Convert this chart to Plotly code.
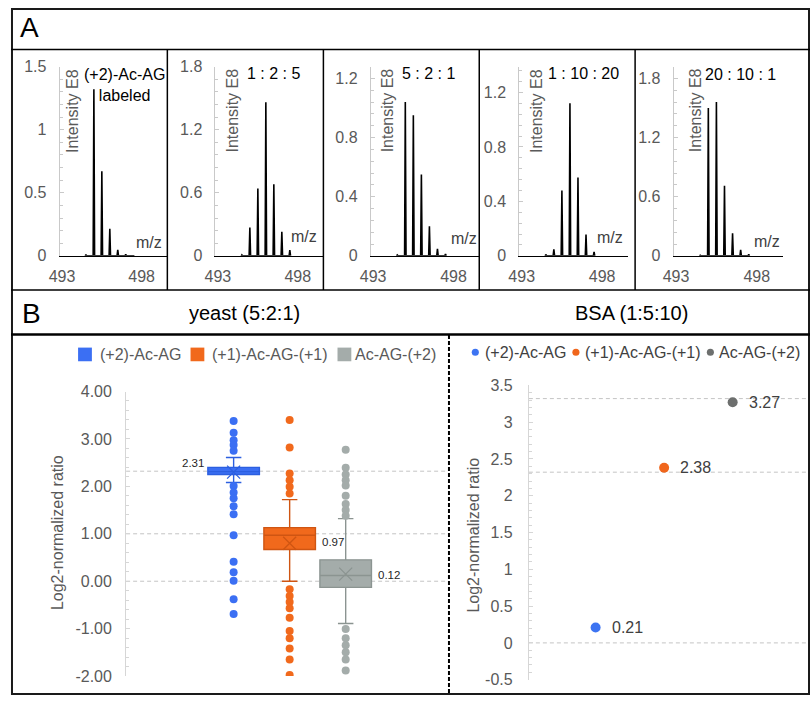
import plotly.graph_objects as go

W, H = 810, 704

# ---------------- Panel A: mass spectra ----------------
mz = [494.5, 495.0, 495.5, 496.0, 496.5, 497.0, 497.5]
intensity_labeled = [0.010, 1.32, 0.67, 0.215, 0.047, 0.013, 0.0]
intensity_1_2_5 = [0.010, 0.27, 0.64, 1.46, 0.68, 0.23, 0.055]
intensity_5_2_1 = [0.006, 1.04, 0.95, 0.55, 0.20, 0.047, 0.013]
intensity_1_10_20 = [0.010, 0.048, 0.48, 1.12, 0.575, 0.156, 0.030]
intensity_20_10_1 = [0.006, 1.50, 1.56, 0.71, 0.23, 0.060, 0.015]
spectra = [intensity_labeled, intensity_1_2_5, intensity_5_2_1, intensity_1_10_20, intensity_20_10_1]
spectrum_labels = ["(+2)-Ac-AG<br>labeled", "1 : 2 : 5", "5 : 2 : 1", "1 : 10 : 20", "20 : 10 : 1"]
mz_tick_values = [493, 498]
mz_range = [492.85, 499.6]
intensity_ticks = [[0, 0.5, 1, 1.5], [0, 0.6, 1.2, 1.8], [0, 0.4, 0.8, 1.2],
                   [0, 0.4, 0.8, 1.2], [0, 0.6, 1.2, 1.8]]
intensity_max = [1.5, 1.8, 1.28, 1.39, 1.92]
intensity_minor = [0.1, 0.12, 0.08, 0.08, 0.12]

# ---------------- Panel B left: yeast box plot ----------------
species = ["(+2)-Ac-AG", "(+1)-Ac-AG-(+1)", "Ac-AG-(+2)"]
species_pos = [1, 2, 3]
yeast_q1 = [2.25, 0.67, -0.13]
yeast_median = [2.31, 0.97, 0.12]
yeast_q3 = [2.40, 1.13, 0.45]
yeast_lower_whisker = [2.08, 0.00, -0.89]
yeast_upper_whisker = [2.61, 1.72, 1.32]
yeast_mean = [2.30, 0.80, 0.15]
yeast_outliers = [
    [3.38, 3.13, 2.97, 2.87, 2.75, 2.01, 1.87, 1.75, 1.58, 1.41, 0.97, 0.41, 0.19, 0.01, -0.38, -0.69],
    [3.40, 2.82, 2.27, 2.13, 1.99, 1.85, -0.17, -0.31, -0.44, -0.57, -0.77, -1.05, -1.20,
     -1.42, -1.65, -1.98],
    [2.77, 2.39, 2.25, 2.13, 2.02, 1.80, 1.63, 1.50, 1.38, -1.01, -1.20, -1.35, -1.50,
     -1.65, -1.88],
]
yeast_expected = [2.32, 1.0, 0.0]
yeast_ticks = [-2, -1, 0, 1, 2, 3, 4]
yeast_tick_text = ["-2.00", "-1.00", "0.00", "1.00", "2.00", "3.00", "4.00"]

# ---------------- Panel B right: BSA scatter ----------------
bsa_ratio = [0.21, 2.38, 3.27]
bsa_expected = [3.32, 2.32, 0.0]
bsa_ticks = [-0.5, 0, 0.5, 1, 1.5, 2, 2.5, 3, 3.5]
bsa_tick_text = ["-0.5", "0", "0.5", "1", "1.5", "2", "2.5", "3", "3.5"]

box_fill = ["#3b6ff3", "#f1691c", "#a4acaa"]
box_line = ["#2c5fe0", "#cf5512", "#8b9491"]
bsa_colors = ["#3d74f2", "#f0661c", "#6d6f6e"]

FONT = "Liberation Sans, Arial, sans-serif"
TICKC = "#595959"
AXC = "#c9c9c9"


def fx(px):
    return px / W


def fy(py):
    return 1 - py / H


fig = go.Figure()
layout = dict(
    width=W, height=H, margin=dict(l=0, r=0, t=0, b=0),
    paper_bgcolor="white", plot_bgcolor="rgba(0,0,0,0)",
    font=dict(family=FONT, size=16, color=TICKC),
    showlegend=False, boxmode="overlay",
)
annotations = []
shapes = []

# ---- spectra subplots ----
spec_x_dom = [(49.3, 158.3), (207.3, 316.7), (364.7, 474.7), (515.3, 625.3), (671.7, 782.3)]
spec_y_dom = (60, 254)
ie8_x = [62.3, 225, 382, 532.7, 694]
lab_pos = [(115.5, 79), (266, 67), (423.5, 67), (580, 67), (740, 68)]
mz_pos = [(140, 240), (297.5, 234), (459, 236), (607, 235), (766.5, 239)]

for i, ints in enumerate(spectra):
    k = i + 1
    xs, ys = [], []
    for m, h in zip(mz, ints):
        xs += [m - 0.045, m, m + 0.045]
        ys += [0, h, 0]
    fig.add_trace(go.Scatter(x=xs, y=ys, mode="lines", line=dict(color="black", width=1.6),
                             xaxis=f"x{k}", yaxis=f"y{k}", hoverinfo="skip"))
    xa = "xaxis" if k == 1 else f"xaxis{k}"
    ya = "yaxis" if k == 1 else f"yaxis{k}"
    layout[xa] = dict(domain=[fx(spec_x_dom[i][0]), fx(spec_x_dom[i][1])], range=mz_range,
                      anchor=f"y{k}", tickvals=mz_tick_values, showgrid=False, zeroline=False,
                      showline=True, linecolor="black", linewidth=1.3, ticks="",
                      tickfont=dict(size=16, color=TICKC), ticklabelstandoff=6)
    layout[ya] = dict(domain=[fy(spec_y_dom[1]), fy(spec_y_dom[0])], range=[0, intensity_max[i]],
                      anchor=f"x{k}", tickvals=intensity_ticks[i], showgrid=False, zeroline=False,
                      showline=True, linecolor=AXC, linewidth=1, ticks="inside", ticklen=4,
                      tickcolor=AXC, tickfont=dict(size=16, color=TICKC), ticklabelstandoff=9,
                      minor=dict(tickmode="linear", tick0=0, dtick=intensity_minor[i],
                                 ticks="inside", ticklen=3, tickcolor=AXC))
    annotations.append(dict(x=fx(ie8_x[i]), y=fy(60), xref="paper", yref="paper",
                            text="Intensity E8", textangle=-90, showarrow=False,
                            xanchor="center", yanchor="top",
                            font=dict(size=16, color="#5a5a5a")))
    annotations.append(dict(x=fx(lab_pos[i][0]), y=fy(lab_pos[i][1]), xref="paper", yref="paper",
                            text=spectrum_labels[i], showarrow=False, xanchor="center",
                            yanchor="middle", font=dict(size=16, color="black")))
    annotations.append(dict(x=fx(mz_pos[i][0]), y=fy(mz_pos[i][1]), xref="paper", yref="paper",
                            text="m/z", showarrow=False, xanchor="center", yanchor="middle",
                            font=dict(size=16, color="#404040")))

# ---- yeast box plot (x6/y6) ----
for j in range(3):
    fig.add_trace(go.Box(x=[species_pos[j]], q1=[yeast_q1[j]], median=[yeast_median[j]],
                         q3=[yeast_q3[j]], lowerfence=[yeast_lower_whisker[j]],
                         upperfence=[yeast_upper_whisker[j]], width=0.92,
                         fillcolor=box_fill[j], line=dict(color=box_line[j], width=1.4),
                         whiskerwidth=0.3, boxpoints=False, name=species[j],
                         xaxis="x6", yaxis="y6", hoverinfo="skip"))
    fig.add_trace(go.Scatter(x=[species_pos[j]] * len(yeast_outliers[j]), y=yeast_outliers[j],
                             mode="markers", marker=dict(color=box_fill[j], size=8),
                             xaxis="x6", yaxis="y6", hoverinfo="skip"))
    fig.add_trace(go.Scatter(x=[species_pos[j]], y=[yeast_mean[j]], mode="markers",
                             marker=dict(symbol="x-thin-open", size=13, color=box_line[j],
                                         line=dict(color=box_line[j], width=1.3)),
                             xaxis="x6", yaxis="y6", hoverinfo="skip"))

layout["xaxis6"] = dict(domain=[fx(116.7), fx(443)], range=[-0.919, 4.826], anchor="y6",
                        visible=False)
layout["yaxis6"] = dict(domain=[fy(684.6), fy(393)], range=[-2, 4], anchor="x6",
                        tickvals=yeast_ticks, ticktext=yeast_tick_text, showgrid=False,
                        zeroline=False, showline=True, linecolor="#d6d6d6", linewidth=1,
                        ticks="inside", ticklen=4, tickcolor="#d6d6d6",
                        tickfont=dict(size=16, color=TICKC), ticklabelstandoff=10,
                        minor=dict(tickmode="linear", tick0=0, dtick=0.2, ticks="inside",
                                   ticklen=3, tickcolor="#d6d6d6"))
for v in yeast_expected:
    shapes.append(dict(type="line", xref="x6 domain", yref="y6", x0=0, x1=1, y0=v, y1=v,
                       line=dict(color="#c4c4c4", width=1, dash="4px,3px"), layer="below"))

box_lab = [(species_pos[0] - 0.46, yeast_median[0], "right", -2, 9),
           (species_pos[1] + 0.46, yeast_median[1], "left", 5, -7),
           (species_pos[2] + 0.46, yeast_median[2], "left", 5, 1)]
for j, (xv, yv, anc, xs_, ys_) in enumerate(box_lab):
    annotations.append(dict(x=xv, y=yv, xref="x6", yref="y6", text=f"{yeast_median[j]:.2f}",
                            showarrow=False, xanchor=anc, yanchor="middle", xshift=xs_,
                            yshift=ys_, font=dict(size=11.5, color="#262626")))

# ---- BSA scatter (x7/y7) ----
for j in range(3):
    fig.add_trace(go.Scatter(x=[species_pos[j]], y=[bsa_ratio[j]], mode="markers",
                             marker=dict(color=bsa_colors[j], size=10), name=species[j],
                             xaxis="x7", yaxis="y7", hoverinfo="skip"))
    annotations.append(dict(x=species_pos[j], y=bsa_ratio[j], xref="x7", yref="y7",
                            text=f"{bsa_ratio[j]:.2f}", showarrow=False, xanchor="left",
                            yanchor="middle", xshift=14, font=dict(size=16, color="#404040")))
layout["xaxis7"] = dict(domain=[fx(525), fx(808)], range=[0.026, 4.1], anchor="y7",
                        visible=False)
layout["yaxis7"] = dict(domain=[fy(688.3), fy(386.7)], range=[-0.5, 3.5], anchor="x7",
                        tickvals=bsa_ticks, ticktext=bsa_tick_text, showgrid=False,
                        zeroline=False, showline=True, linecolor="#d6d6d6", linewidth=1,
                        ticks="inside", ticklen=4, tickcolor="#d6d6d6",
                        tickfont=dict(size=16, color=TICKC), ticklabelstandoff=12,
                        minor=dict(tickmode="linear", tick0=0, dtick=0.1, ticks="inside",
                                   ticklen=3, tickcolor="#d6d6d6"))
for v in bsa_expected:
    shapes.append(dict(type="line", xref="x7 domain", yref="y7", x0=0, x1=1, y0=v, y1=v,
                       line=dict(color="#c4c4c4", width=1, dash="4px,3px"), layer="below"))

# ---- axis titles ----
for cx, cy in [(46.7, 538), (469, 540)]:
    annotations.append(dict(x=fx(cx), y=fy(cy), xref="paper", yref="paper",
                            text="Log2-normalized ratio", textangle=-90, showarrow=False,
                            xanchor="center", yanchor="middle",
                            font=dict(size=16, color="#595959")))

# ---- legends ----
leg_sq = [(68, 88), (182, 202), (331, 347)]
for j, (sx, tx) in enumerate(leg_sq):
    shapes.append(dict(type="rect", xref="paper", yref="paper", x0=fx(sx), x1=fx(sx + 14),
                       y0=fy(362), y1=fy(348), fillcolor=box_fill[j], line=dict(width=0)))
    annotations.append(dict(x=fx(tx), y=fy(355), xref="paper", yref="paper", text=species[j],
                            showarrow=False, xanchor="left", yanchor="middle",
                            font=dict(size=16, color="#595959")))
leg_dot = [(470.7, 478.3), (572.7, 580), (709, 716)]
for j, (dx, tx) in enumerate(leg_dot):
    shapes.append(dict(type="circle", xref="paper", yref="paper", x0=fx(dx - 3.6),
                       x1=fx(dx + 3.6), y0=fy(356.3), y1=fy(349.1), fillcolor=bsa_colors[j],
                       line=dict(width=0)))
    annotations.append(dict(x=fx(tx), y=fy(353), xref="paper", yref="paper", text=species[j],
                            showarrow=False, xanchor="left", yanchor="middle",
                            font=dict(size=16, color="#404040")))

# ---- headers ----
annotations += [
    dict(x=fx(7), y=fy(20), xref="paper", yref="paper", text="A", showarrow=False,
         xanchor="left", yanchor="middle", font=dict(size=28, color="black")),
    dict(x=fx(9), y=fy(313), xref="paper", yref="paper", text="B", showarrow=False,
         xanchor="left", yanchor="middle", font=dict(size=28, color="black")),
    dict(x=fx(237), y=fy(313), xref="paper", yref="paper", text="yeast (5:2:1)",
         showarrow=False, xanchor="center", yanchor="middle", font=dict(size=20, color="black")),
    dict(x=fx(629), y=fy(313), xref="paper", yref="paper", text="BSA (1:5:10)",
         showarrow=False, xanchor="center", yanchor="middle", font=dict(size=20, color="black")),
]

# ---- frame lines ----
def pline(x0, y0, x1, y1, w=1.5, dash=None, color="black"):
    d = dict(type="line", xref="paper", yref="paper", x0=fx(x0), y0=fy(y0), x1=fx(x1),
             y1=fy(y1), line=dict(color=color, width=w))
    if dash:
        d["line"]["dash"] = dash
    return d

shapes += [
    dict(type="rect", xref="paper", yref="paper", x0=fx(1), y0=fy(703), x1=fx(809), y1=fy(1),
         line=dict(color="#1a1a1a", width=2)),
    pline(0, 42.5, 810, 42.5),
    pline(0, 289, 810, 289),
    pline(0, 334.5, 810, 334.5, w=2.5),
    pline(158.5, 42.5, 158.5, 289),
    pline(316.7, 42.5, 316.7, 289),
    pline(474.7, 42.5, 474.7, 289),
    pline(632.7, 42.5, 632.7, 289),
    pline(444, 335, 444, 704, w=2, dash="4px,2px"),
]

layout["annotations"] = annotations
layout["shapes"] = shapes
fig.update_layout(**layout)
fig.write_html(
    "out.html",
    config={"displayModeBar": False, "responsive": False},
    post_script="var d=document.getElementById('{plot_id}');"
                "d.style.position='fixed';d.style.left='0px';d.style.top='0px';"
                "document.body.style.margin='0';document.body.style.padding='0';"
                "document.body.style.overflow='hidden';"
                "document.documentElement.style.overflow='hidden';",
)
